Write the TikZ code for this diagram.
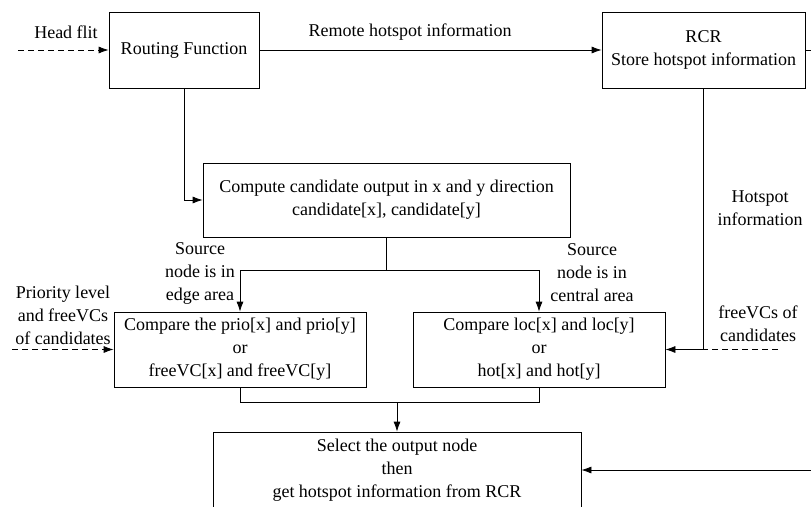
\documentclass[tikz,border=0pt]{standalone}
\usepackage{fontspec}
\setmainfont{Liberation Serif}
\usetikzlibrary{arrows.meta}
\begin{document}
\begin{tikzpicture}[x=1pt,y=-1pt,
  box/.style={draw, line width=0.8pt, inner sep=0pt, align=center, font=\fontsize{18}{23}\selectfont},
  lbl/.style={inner sep=0pt, align=center, font=\fontsize{18}{23}\selectfont},
  arr/.style={line width=0.8pt, -{Latex[length=10pt,width=7pt]}},
  ln/.style={line width=0.8pt},
  dsh/.style={line width=0.8pt, dash pattern=on 6pt off 4pt}]
\useasboundingbox (0,0) rectangle (811,506);
% boxes
\node[box, minimum width=150pt, minimum height=76pt] (rf) at (184,50) {Routing Function};
\node[box, minimum width=203pt, minimum height=76pt] (rcr) at (703.5,50) {RCR\\Store hotspot information};
\node[box, minimum width=367pt, minimum height=74pt] (compute) at (386.5,200) {Compute candidate output in x and y direction\\candidate[x], candidate[y]};
\node[box, minimum width=252pt, minimum height=75pt] (leftc) at (240,349.5) {Compare the prio[x] and prio[y]\\or\\freeVC[x] and freeVC[y]};
\node[box, minimum width=252pt, minimum height=75pt] (rightc) at (539,349.5) {Compare loc[x] and loc[y]\\or\\hot[x] and hot[y]};
\node[box, minimum width=368pt, minimum height=76pt] (select) at (397,470) {Select the output node\\then\\get hotspot information from RCR};
% labels
\node[lbl] (lhf) at (66,32) {Head flit};
\node[lbl] (lrh) at (410,32) {Remote hotspot information};
\node[lbl] (lhi) at (760,208) {Hotspot\\information};
\node[lbl] (lfv) at (758,324) {freeVCs of\\candidates};
\node[lbl] (lpl) at (63,315) {Priority level\\and freeVCs\\of candidates};
\node[lbl] (lse) at (200,273) {Source\\node is in\\edge area};
\node[lbl] (lsc) at (592,273) {Source\\node is in\\central area};
% coordinates
\coordinate (hf) at (18,50);
\coordinate (pl) at (12,349.5);
\coordinate (fv) at (778,349.5);
\coordinate (j1) at (386.5,270);
\coordinate (j2) at (397,402);
% connectors
\draw[dsh, arr] (hf) -- (rf.west);
\draw[arr] (rf.east) -- (rcr.west);
\draw[arr] (rf.south) |- (compute.west);
\draw[ln] (compute.south) -- (j1);
\draw[arr] (j1) -| (leftc.north);
\draw[arr] (j1) -| (rightc.north);
\draw[dsh, arr] (pl) -- (leftc.west);
\draw[arr] (rcr.south) |- (rightc.east);
\draw[dsh] (fv) -- (rcr.south |- rightc.east);
\draw[ln] (leftc.south) -- (leftc.south |- j2) -- (rightc.south |- j2) -- (rightc.south);
\draw[arr] (j2) -- (select.north);
\draw[arr] (rcr.east) -- ++(20,0) |- (select.east);
\end{tikzpicture}
\end{document}
